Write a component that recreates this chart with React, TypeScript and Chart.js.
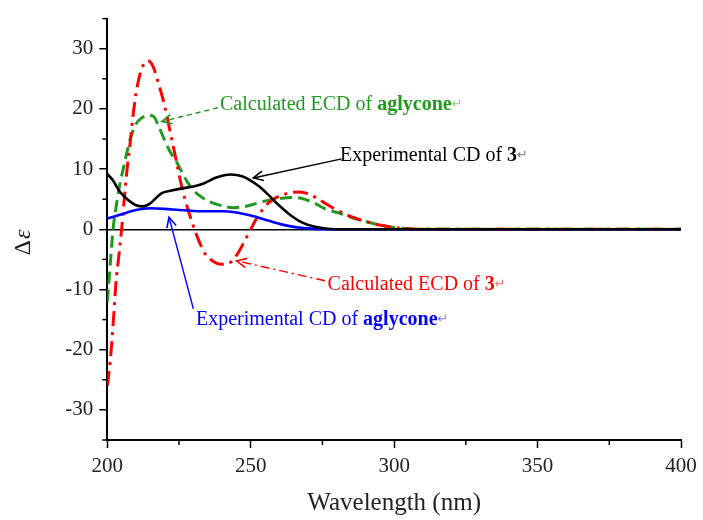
import React, { useEffect, useRef } from 'react';
import { Chart, registerables } from 'chart.js';

Chart.register(...registerables);

// ---------- data ----------
const expCD3X = [200, 202, 204, 206, 208, 210, 212.5, 215, 217, 219, 222, 226, 230, 234, 238, 243, 247, 250, 253, 256, 260, 264, 268, 272, 276, 280, 290, 400];
const expCD3Y = [9.2, 8.1, 6.5, 5.4, 4.6, 4.0, 3.8, 4.3, 5.2, 6.0, 6.4, 6.8, 7.1, 7.7, 8.6, 9.1, 8.8, 8.1, 7.1, 5.8, 3.9, 2.3, 1.1, 0.45, 0.12, 0.02, 0, 0];

const expAglyX = [200, 205, 210, 215, 220, 225, 230, 235, 240, 245, 250, 255, 260, 265, 270, 275, 280, 400];
const expAglyY = [1.8, 2.5, 3.2, 3.5, 3.4, 3.2, 3.05, 3.0, 3.0, 2.8, 2.3, 1.6, 0.9, 0.4, 0.15, 0.03, 0, 0];

const calc3X = [200, 201, 202, 203, 204, 205, 206, 207, 208, 209, 210, 211, 212, 213, 214, 215, 216, 218, 220, 222, 224, 226, 228, 230, 232, 234, 236, 238, 240, 242, 244, 246, 248, 250, 252, 254, 256, 258, 261, 264, 267, 270, 273, 276, 280, 285, 290, 295, 300, 305, 310, 400];
const calc3Y = [-26, -22, -16, -9, -4.5, 0, 5.5, 10.5, 14.5, 19, 22.5, 25, 26.7, 27.6, 28, 27.8, 27, 24, 20.5, 16, 11.5, 7, 3.5, 0.5, -2, -4, -5.0, -5.6, -5.8, -5.7, -5.0, -3.6, -1.8, 0, 1.8, 3.2, 4.3, 5.0, 5.7, 6.1, 6.2, 5.9, 5.2, 4.3, 3.2, 2.1, 1.3, 0.7, 0.3, 0.1, 0, 0];

const calcAglyX = [200, 201, 202, 203, 204, 206, 208, 210, 212, 214, 216, 218, 220, 222, 224, 226, 228, 230, 233, 236, 240, 244, 248, 252, 256, 260, 264, 268, 272, 276, 280, 285, 290, 295, 300, 305, 310, 400];
const calcAglyY = [-12, -6, 0, 3.5, 6.5, 11, 15, 17.5, 18.5, 18.9, 18.8, 17, 14.8, 12.8, 11.3, 9.5, 7.8, 6.5, 5.3, 4.5, 3.9, 3.6, 3.8, 4.3, 4.8, 5.1, 5.3, 5.1, 4.4, 3.4, 2.8, 2.0, 1.3, 0.7, 0.3, 0.1, 0, 0];

const xMin = 200;
const xMax = 400;
const yMin = -35;
const yMax = 35;

const SERIF = '"Liberation Serif", "Times New Roman", Times, serif';

const GREEN = '#1f9a1f';
const RED = '#ff0000';
const BLUE = '#0000ff';
const BLACK = '#000000';

// annotation labels (text anchors and arrows in data units)
const annotations = [
  {
    parts: [{ t: 'Calculated ECD of ', b: false }, { t: 'aglycone', b: true }],
    color: GREEN, tx: 239.3, ty: 19.83, from: [238.6, 20.2], to: [219.0, 17.9], dash: [5, 4],
  },
  {
    parts: [{ t: 'Experimental CD of ', b: false }, { t: '3', b: true }],
    color: BLACK, tx: 281.1, ty: 11.29, from: [281.7, 11.7], to: [250.9, 8.53], dash: [],
  },
  {
    parts: [{ t: 'Calculated ECD of ', b: false }, { t: '3', b: true }],
    color: RED, tx: 276.8, ty: -10.08, from: [275.9, -8.55], to: [245.1, -5.24], dash: [9, 4, 2, 4],
  },
  {
    parts: [{ t: 'Experimental CD of ', b: false }, { t: 'aglycone', b: true }],
    color: BLUE, tx: 230.9, ty: -15.87, from: [230.0, -13.2], to: [221.5, 2.0], dash: [],
  },
];

const toPts = (xs: number[], ys: number[]) => xs.map((x, i) => ({ x, y: ys[i] }));

const overlayPlugin = {
  id: 'overlay',
  afterDatasetsDraw(chart: any) {
    const ctx = chart.ctx as CanvasRenderingContext2D;
    const xs = chart.scales.x;
    const ys = chart.scales.y;
    const area = chart.chartArea;

    // minor ticks
    ctx.save();
    ctx.strokeStyle = '#000';
    ctx.lineWidth = 1.5;
    for (let v = yMin; v <= yMax; v += 5) {
      if (v % 10 === 0) continue;
      const py = ys.getPixelForValue(v);
      ctx.beginPath();
      ctx.moveTo(area.left - 5, py);
      ctx.lineTo(area.left, py);
      ctx.stroke();
    }
    for (let v = xMin; v <= xMax; v += 25) {
      if (v % 50 === 0) continue;
      const px = xs.getPixelForValue(v);
      ctx.beginPath();
      ctx.moveTo(px, area.bottom);
      ctx.lineTo(px, area.bottom + 5);
      ctx.stroke();
    }
    ctx.restore();

    // annotations
    for (const a of annotations) {
      const x1 = xs.getPixelForValue(a.from[0]);
      const y1 = ys.getPixelForValue(a.from[1]);
      const x2 = xs.getPixelForValue(a.to[0]);
      const y2 = ys.getPixelForValue(a.to[1]);
      ctx.save();
      ctx.strokeStyle = a.color;
      ctx.lineWidth = 1.4;
      ctx.setLineDash(a.dash);
      ctx.beginPath();
      ctx.moveTo(x1, y1);
      ctx.lineTo(x2, y2);
      ctx.stroke();
      ctx.setLineDash([]);
      const ang = Math.atan2(y1 - y2, x1 - x2);
      const len = 11;
      const spread = 0.45;
      ctx.lineWidth = 1.6;
      ctx.beginPath();
      ctx.moveTo(x2 + len * Math.cos(ang + spread), y2 + len * Math.sin(ang + spread));
      ctx.lineTo(x2, y2);
      ctx.lineTo(x2 + len * Math.cos(ang - spread), y2 + len * Math.sin(ang - spread));
      ctx.stroke();

      let tx = xs.getPixelForValue(a.tx);
      const ty = ys.getPixelForValue(a.ty);
      ctx.fillStyle = a.color;
      ctx.textBaseline = 'alphabetic';
      ctx.textAlign = 'left';
      for (const p of a.parts) {
        ctx.font = `${p.b ? 'bold ' : ''}20px ${SERIF}`;
        ctx.fillText(p.t, tx, ty);
        tx += ctx.measureText(p.t).width;
      }
      ctx.globalAlpha = 0.55;
      ctx.font = `13px "DejaVu Sans", sans-serif`;
      ctx.fillText('\u21B5', tx, ty - 2);
      ctx.restore();
    }

    // y-axis title  Δε (ε italic)
    ctx.save();
    ctx.translate(30, 243);
    ctx.rotate(-Math.PI / 2);
    ctx.fillStyle = '#222';
    ctx.textBaseline = 'alphabetic';
    ctx.font = `24px ${SERIF}`;
    const wD = ctx.measureText('\u0394').width;
    ctx.font = `italic 24px ${SERIF}`;
    const wE = ctx.measureText('\u03B5').width;
    const start = -(wD + wE) / 2;
    ctx.font = `24px ${SERIF}`;
    ctx.fillText('\u0394', start, 0);
    ctx.font = `italic 24px ${SERIF}`;
    ctx.fillText('\u03B5', start + wD + 1, 0);
    ctx.restore();
  },
};

export default function App() {
  const canvasRef = useRef<HTMLCanvasElement | null>(null);

  useEffect(() => {
    const canvas = canvasRef.current;
    if (!canvas) return;
    const chart = new Chart(canvas, {
      type: 'line',
      data: {
        datasets: [
          {
            label: 'Experimental CD of 3',
            data: toPts(expCD3X, expCD3Y),
            borderColor: BLACK,
            borderWidth: 2.6,
            pointRadius: 0,
            cubicInterpolationMode: 'monotone',
            fill: false,
          },
          {
            label: 'Experimental CD of aglycone',
            data: toPts(expAglyX, expAglyY),
            borderColor: BLUE,
            borderWidth: 2.6,
            pointRadius: 0,
            cubicInterpolationMode: 'monotone',
            fill: false,
          },
          {
            label: 'Calculated ECD of 3',
            data: toPts(calc3X, calc3Y),
            borderColor: RED,
            borderWidth: 3,
            borderDash: [15, 6, 3, 6],
            pointRadius: 0,
            cubicInterpolationMode: 'monotone',
            fill: false,
          },
          {
            label: 'Calculated ECD of aglycone',
            data: toPts(calcAglyX, calcAglyY),
            borderColor: GREEN,
            borderWidth: 3,
            borderDash: [12, 6],
            pointRadius: 0,
            cubicInterpolationMode: 'monotone',
            fill: false,
          },
        ],
      },
      options: {
        animation: false,
        responsive: false,
        maintainAspectRatio: false,
        devicePixelRatio: 1,
        layout: { padding: { top: 16.5, right: 22, left: 0, bottom: 0 } },
        plugins: {
          legend: { display: false },
          tooltip: { enabled: false },
        },
        scales: {
          x: {
            type: 'linear',
            min: xMin,
            max: xMax,
            border: { display: true, color: '#000', width: 2 },
            grid: {
              drawOnChartArea: false,
              drawTicks: true,
              tickLength: 8,
              tickWidth: 1.5,
              tickColor: (c: any) => (c.tick && c.tick.value % 50 === 0 ? '#000' : 'rgba(0,0,0,0)'),
            },
            ticks: {
              stepSize: 25,
              autoSkip: false,
              maxRotation: 0,
              padding: 6,
              color: '#222',
              font: { family: SERIF, size: 21 },
              callback: (v: any) => (Number(v) % 50 === 0 ? String(v) : ''),
            },
            title: {
              display: true,
              text: 'Wavelength (nm)',
              color: '#222',
              font: { family: SERIF, size: 25, lineHeight: 1.2 },
              padding: { top: 0, bottom: 2 },
            },
            afterFit: (s: any) => { s.height = 80; },
          },
          y: {
            type: 'linear',
            min: yMin,
            max: yMax,
            border: { display: true, color: '#000', width: 2 },
            grid: {
              drawOnChartArea: true,
              drawTicks: true,
              tickLength: 8,
              tickWidth: 1.5,
              lineWidth: 1.5,
              color: (c: any) => (c.tick && c.tick.value === 0 ? '#000' : 'rgba(0,0,0,0)'),
              tickColor: (c: any) => (c.tick && c.tick.value % 10 === 0 ? '#000' : 'rgba(0,0,0,0)'),
            },
            ticks: {
              stepSize: 5,
              autoSkip: false,
              padding: 6,
              color: '#222',
              font: { family: SERIF, size: 21 },
              callback: (v: any) => (Number(v) % 10 === 0 ? String(v) : ''),
            },
            afterFit: (s: any) => { s.width = 107.3; },
          },
        },
      },
      plugins: [overlayPlugin],
    } as any);
    return () => chart.destroy();
  }, []);

  return (
    <div style={{ position: 'fixed', left: 0, top: 0, width: 703, height: 520, background: '#fff' }}>
      <canvas ref={canvasRef} width={703} height={520} style={{ display: 'block', width: 703, height: 520 }} />
    </div>
  );
}
